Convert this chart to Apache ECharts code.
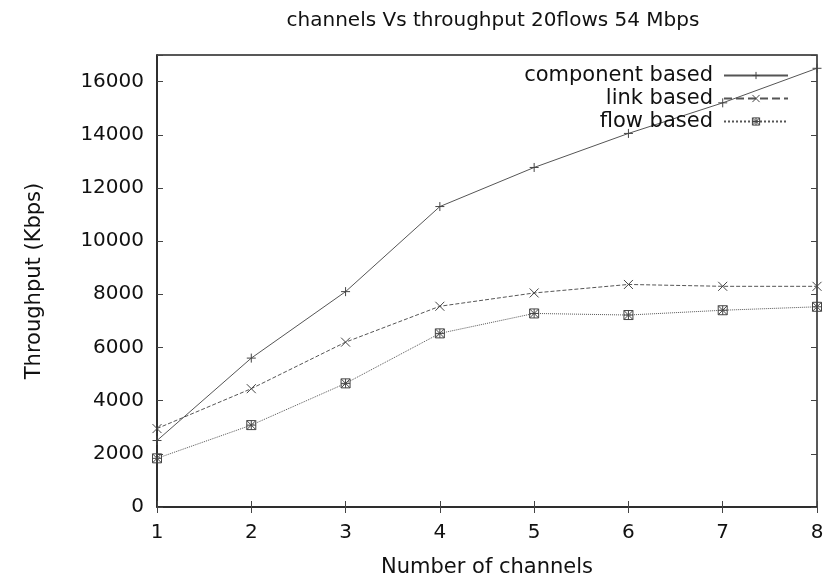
<!DOCTYPE html>
<html>
<head>
<meta charset="utf-8">
<script src="https://cdn.jsdelivr.net/npm/echarts@6/dist/echarts.min.js"></script>
<style>html,body{margin:0;padding:0;background:#fff}#c{width:834px;height:577px}</style>
</head>
<body>
<div id="c"></div>
<script>
const channels = [1, 2, 3, 4, 5, 6, 7, 8];
const componentBased = [2500, 5600, 8100, 11300, 12770, 14050, 15200, 16500];
const linkBased = [2950, 4450, 6200, 7550, 8050, 8370, 8300, 8300];
const flowBased = [1830, 3080, 4650, 6530, 7280, 7220, 7400, 7530];
const yTicks = [0, 2000, 4000, 6000, 8000, 10000, 12000, 14000, 16000];

const pts = arr => channels.map((c, i) => [c, arr[i]]);
const plusSym = 'path://M0,5L10,5M5,0L5,10';
const xSym = 'path://M0,0L10,10M10,0L0,10';
const starSym = 'path://M0,0L10,10M10,0L0,10M0,5L10,5M5,0L5,10M0,0L10,0L10,10L0,10Z';
const wfont = 'DejaVu Sans, Verdana, sans-serif';

const chart = echarts.init(document.getElementById('c'), null, {renderer: 'canvas'});
const mkSeries = (name, data, sym, type) => ({
  name, type: 'line', data: pts(data),
  symbol: sym, symbolSize: 9,
  showSymbol: true,
  itemStyle: {color: 'rgba(0,0,0,0)', borderColor: '#444', borderWidth: 1},
  lineStyle: {color: '#555', width: 1, type},
  emphasis: {disabled: true},
  animation: false
});
chart.setOption({
  animation: false,
  title: {
    text: 'channels Vs throughput 20flows 54 Mbps',
    left: 488, top: 6, textAlign: 'center',
    textStyle: {fontFamily: wfont, fontSize: 20, fontWeight: 'normal', color: '#111'}
  },
  grid: {left: 157, right: 17, top: 55, bottom: 70, containLabel: false, outerBoundsMode: 'none',
    show: true, borderColor: '#222', borderWidth: 1.5},
  legend: {
    orient: 'vertical', right: 40, top: 59, align: 'right',
    itemWidth: 64, itemHeight: 9, itemGap: 0,
    itemStyle: {color: 'rgba(0,0,0,0)', borderColor: '#444', borderWidth: 1},
    textStyle: {fontFamily: wfont, fontSize: 21, lineHeight: 23, color: '#111', padding: [0, 6, 0, 0]},
    data: ['component based', 'link based', 'flow based']
  },
  xAxis: [{
    type: 'value', min: 1, max: 8, interval: 1,
    name: 'Number of channels', nameLocation: 'middle', nameGap: 50,
    nameTextStyle: {fontFamily: wfont, fontSize: 21, color: '#111'},
    axisLine: {show: true, lineStyle: {color: '#222', width: 1.5}},
    axisTick: {inside: true, length: 6, lineStyle: {color: '#444'}},
    axisLabel: {fontFamily: wfont, fontSize: 20, color: '#111', margin: 16},
    splitLine: {show: false}
  }, {
    type: 'value', min: 1, max: 8, interval: 1, position: 'top',
    axisLine: {show: false},
    axisTick: {inside: true, length: 6, lineStyle: {color: '#444'}},
    axisLabel: {show: false}, splitLine: {show: false}
  }],
  yAxis: [{
    type: 'value', min: 0, max: 17000, interval: 2000,
    name: 'Throughput (Kbps)', nameLocation: 'middle', nameGap: 112, nameRotate: 90,
    nameTextStyle: {fontFamily: wfont, fontSize: 21, color: '#111'},
    axisLine: {show: true, lineStyle: {color: '#222', width: 1.5}},
    axisTick: {inside: true, length: 6, lineStyle: {color: '#444'}},
    axisLabel: {fontFamily: wfont, fontSize: 20, color: '#111', margin: 13,
      formatter: v => yTicks.includes(v) ? String(v) : ''},
    splitLine: {show: false}
  }, {
    type: 'value', min: 0, max: 17000, interval: 2000, position: 'right',
    axisLine: {show: false},
    axisTick: {inside: true, length: 6, lineStyle: {color: '#444'}},
    axisLabel: {show: false}, splitLine: {show: false}
  }],
  series: [
    mkSeries('component based', componentBased, plusSym, 'solid'),
    mkSeries('link based', linkBased, xSym, 'dashed'),
    mkSeries('flow based', flowBased, starSym, 'dotted')
  ]
});
</script>
</body>
</html>
